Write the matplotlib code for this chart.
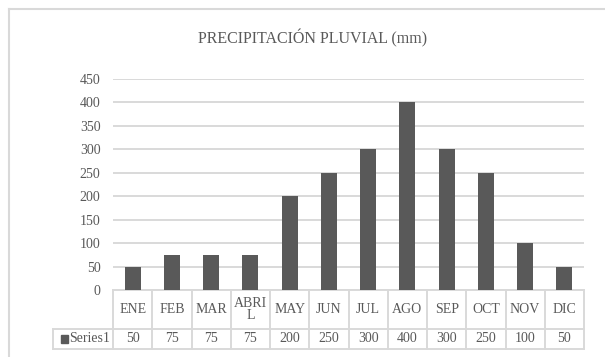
import matplotlib
matplotlib.use("Agg")
import matplotlib.pyplot as plt
from matplotlib.transforms import blended_transform_factory
from matplotlib.lines import Line2D
from matplotlib.patches import Rectangle

meses = ["ENE", "FEB", "MAR", "ABRI\nL", "MAY", "JUN", "JUL", "AGO", "SEP", "OCT", "NOV", "DIC"]
lluvia = [50, 75, 75, 75, 200, 250, 300, 400, 300, 250, 100, 50]
serie = "Series1"
titulo = "PRECIPITACIÓN PLUVIAL (mm)"

plt.rcParams["font.family"] = ["Liberation Serif", "DejaVu Serif"]
gris_txt = "#595959"
gris_lin = "#d9d9d9"

fig = plt.figure(figsize=(6.05, 3.57), dpi=100)
ax = fig.add_axes([113 / 605, 1 - 290 / 357, 471 / 605, 211 / 357])

x = list(range(len(meses)))
ax.bar(x, lluvia, width=0.41, color=gris_txt, zorder=3)
ax.set_xlim(-0.5, len(meses) - 0.5)
ax.set_ylim(0, 450)
ax.set_yticks(range(0, 451, 50))
ax.set_xticks([])
ax.yaxis.grid(True, color=gris_lin, linewidth=1.4)
ax.set_axisbelow(True)
for s in ax.spines.values():
    s.set_visible(False)
ax.tick_params(axis="y", length=0, pad=9, labelsize=10, labelcolor=gris_txt)

fig.text(313 / 605, 1 - 38 / 357, titulo, ha="center", va="center", fontsize=11.5, color=gris_txt)

# tabla de datos
tr = blended_transform_factory(ax.transData, ax.transAxes)
y_top, y_mid, y_bot = 0.0, -39 / 211, -59 / 211
x_izq = (53 - 113) / 471
kw = dict(color=gris_lin, linewidth=1.4, clip_on=False)
ax.add_line(Line2D([0, 1], [y_top, y_top], transform=ax.transAxes, **kw))
ax.add_line(Line2D([x_izq, 1], [y_mid, y_mid], transform=ax.transAxes, **kw))
ax.add_line(Line2D([x_izq, 1], [y_bot, y_bot], transform=ax.transAxes, **kw))
ax.add_line(Line2D([x_izq, x_izq], [y_mid, y_bot], transform=ax.transAxes, **kw))
for i in range(len(meses) + 1):
    ax.add_line(Line2D([i - 0.5, i - 0.5], [y_top, y_bot], transform=tr, **kw))

for i, (m, v) in enumerate(zip(meses, lluvia)):
    ax.text(i, (y_top + y_mid) / 2, m, transform=tr, ha="center", va="center",
            fontsize=10, color=gris_txt, linespacing=0.85)
    ax.text(i, (y_mid + y_bot) / 2, str(v), transform=tr, ha="center", va="center",
            fontsize=10, color=gris_txt)

ax.add_patch(Rectangle((x_izq + 0.016, (y_mid + y_bot) / 2 - 0.02), 0.016, 0.04,
                       transform=ax.transAxes, color=gris_txt, clip_on=False))
ax.text(x_izq + 0.034, (y_mid + y_bot) / 2, serie, transform=ax.transAxes,
        ha="left", va="center", fontsize=10, color=gris_txt)

# marco del grafico
fig.add_artist(Line2D([9 / 605, 1], [1 - 9 / 357, 1 - 9 / 357], color="#d9d9d9", linewidth=1.5))
fig.add_artist(Line2D([9 / 605, 9 / 605], [0, 1 - 9 / 357], color="#d9d9d9", linewidth=1.5))

fig.savefig("out.png", dpi=100)
